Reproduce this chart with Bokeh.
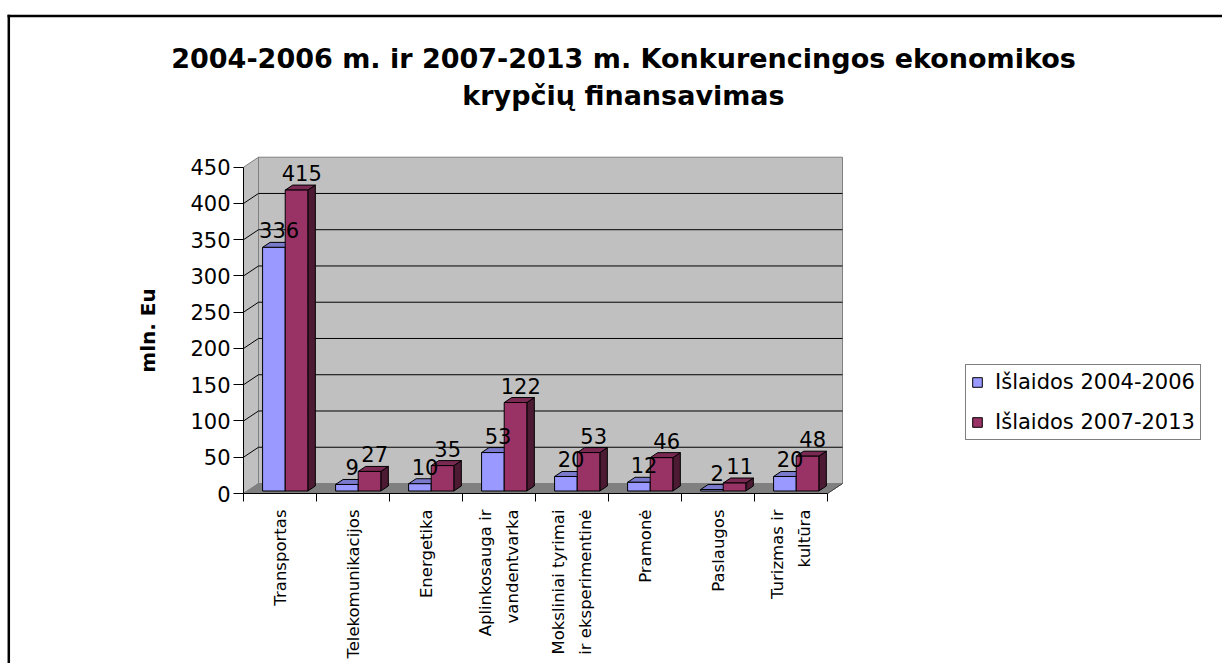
import math
from bokeh.plotting import figure
from bokeh.models import Range1d, FixedTicker, Label, Legend, LegendItem
from bokeh.embed import file_html
from bokeh.resources import INLINE

# ---------------- data ----------------
categories = ["Transportas", "Telekomunikacijos", "Energetika",
              "Aplinkosauga ir\nvandentvarka", "Moksliniai tyrimai\nir eksperimentinė",
              "Pramonė", "Paslaugos", "Turizmas ir\nkultūra"]
series_names = ["Išlaidos 2004-2006", "Išlaidos 2007-2013"]
values_2004_2006 = [336, 9, 10, 53, 20, 12, 2, 20]
values_2007_2013 = [415, 27, 35, 122, 53, 46, 11, 48]
y_ticks = [0, 50, 100, 150, 200, 250, 300, 350, 400, 450]
title_lines = ["2004-2006 m. ir 2007-2013 m. Konkurencingos ekonomikos",
               "krypčių finansavimas"]
y_label = "mln. Eu"

# ---------------- geometry (canvas pixels -> data units) ----------------
FONT = "DejaVu Sans"
W, H = 1222, 663
AX_X, AX_Y = 243, 493       # canvas px of the front origin (x=0, y=0)
PX_X = 73.0                 # px per category
PX_Y = 0.7251               # px per value unit
DX = 15.0 / PX_X            # depth of the 3D box (x)
DY = 10.0 / PX_Y            # depth of the 3D box (y)
YMAX = y_ticks[-1]
N = len(categories)


def cx(px):   # canvas px -> data x
    return (px - AX_X) / PX_X


def cy(py):   # canvas py -> data y
    return (AX_Y - py) / PX_Y


BLUE = ["#9999FF", "#7A7ACC", "#4D4D80"]   # front, top, side
RED = ["#993366", "#7A2952", "#4D1A33"]

p = figure(x_range=Range1d(cx(0), cx(W)), y_range=Range1d(cy(H), cy(0)),
           width=W, height=H,
           min_border_left=0, min_border_right=0,
           min_border_top=0, min_border_bottom=0,
           toolbar_location=None, output_backend="svg",
           background_fill_color="white", border_fill_color="white")
p.title.visible = False
p.outline_line_color = None
p.xgrid.visible = False
p.ygrid.visible = False

# ---------------- outer chart border (top and left edges visible) ----------------
p.segment(x0=[cx(7)], y0=[cy(15.5)], x1=[cx(W)], y1=[cy(15.5)], line_color="black", line_width=2.5)
p.segment(x0=[cx(8.3)], y0=[cy(14.3)], x1=[cx(8.3)], y1=[cy(H)], line_color="black", line_width=2.5)

# ---------------- walls ----------------
p.patch([0, DX, DX, 0], [0, DY, YMAX + DY, YMAX],
        fill_color="#C0C0C0", line_color="#808080", line_width=1)
p.quad(left=[DX], right=[N + DX], bottom=[DY], top=[YMAX + DY],
       fill_color="#C0C0C0", line_color="#808080", line_width=1)
p.patch([0, N, N + DX, DX], [0, 0, DY, DY],
        fill_color="#808080", line_color="#808080", line_width=1)
grid_vals = [v for v in y_ticks if 0 < v < YMAX]
p.segment(x0=[DX] * len(grid_vals), y0=[v + DY for v in grid_vals],
          x1=[N + DX] * len(grid_vals), y1=[v + DY for v in grid_vals],
          line_color="black", line_width=1)
p.segment(x0=[0] * len(grid_vals), y0=grid_vals,
          x1=[DX] * len(grid_vals), y1=[v + DY for v in grid_vals],
          line_color="black", line_width=1)
TICK = 8.0 / PX_Y
p.segment(x0=[0], y0=[0], x1=[N], y1=[0], line_color="black", line_width=1)
p.segment(x0=[N], y0=[0], x1=[N + DX], y1=[DY], line_color="#404040", line_width=1)
p.segment(x0=list(range(N + 1)), y0=[0] * (N + 1),
          x1=list(range(N + 1)), y1=[-TICK] * (N + 1),
          line_color="black", line_width=1)

# ---------------- 3D bars ----------------
T0, T1 = 0.25, 0.75
bdx, bdy = (T1 - T0) * DX, (T1 - T0) * DY
base = T0 * DY
slots = [(0.21, 0.52), (0.52, 0.83)]
front_renderers = []
for vals, (s0, s1), col in zip([values_2004_2006, values_2007_2013], slots, [BLUE, RED]):
    x0 = [i + s0 + T0 * DX for i in range(N)]
    x1 = [i + s1 + T0 * DX for i in range(N)]
    tops = [base + v for v in vals]
    p.patches([[b, b, b + bdx, b + bdx] for b in x1],
              [[base, t, t + bdy, base + bdy] for t in tops],
              fill_color=col[2], line_color="black", line_width=1)
    p.patches([[a, b, b + bdx, a + bdx] for a, b in zip(x0, x1)],
              [[t, t, t + bdy, t + bdy] for t in tops],
              fill_color=col[1], line_color="black", line_width=1)
    r = p.quad(left=x0, right=x1, bottom=[base] * N, top=tops,
               fill_color=col[0], line_color="black", line_width=1)
    front_renderers.append(r)

for vals, (s0, s1) in zip([values_2004_2006, values_2007_2013], slots):
    xs = [i + (s0 + s1) / 2 + T0 * DX + bdx / 2 + 0.02 for i in range(N)]
    ys = [base + v for v in vals]
    p.text(x=xs, y=ys, text=[str(v) for v in vals], y_offset=-17,
           text_align="center", text_baseline="alphabetic",
           text_font={"value": FONT}, text_font_size="21px", text_color="black")

# ---------------- axes (fixed inside the frame) ----------------
yax = p.yaxis[0]
yax.fixed_location = 0
yax.bounds = (0, YMAX)
yax.ticker = FixedTicker(ticks=y_ticks)
yax.axis_line_color = "black"
yax.major_tick_line_color = "black"
yax.major_tick_out = 10
yax.major_tick_in = 0
yax.minor_tick_out = 0
yax.minor_tick_in = 0
yax.major_label_standoff = 3
yax.major_label_text_font = FONT
yax.major_label_text_font_size = "21px"
yax.major_label_text_color = "black"
yax.axis_label = y_label
yax.axis_label_text_font = FONT
yax.axis_label_text_font_style = "bold"
yax.axis_label_text_font_size = "20px"
yax.axis_label_text_color = "black"
yax.axis_label_standoff = 27

xax = p.xaxis[0]
xax.fixed_location = -TICK
centers = [i + 0.5 for i in range(N)]
xax.bounds = (0, N)
xax.ticker = FixedTicker(ticks=centers)
xax.major_label_overrides = {c: name for c, name in zip(centers, categories)}
xax.major_label_orientation = math.pi / 2
xax.axis_line_color = None
xax.major_tick_line_color = None
xax.minor_tick_line_color = None
xax.major_label_standoff = 2
xax.major_label_text_font = FONT
xax.major_label_text_font_size = "16.5px"
xax.major_label_text_color = "black"
xax.major_label_text_line_height = 1.4

# ---------------- title ----------------
for line, py in zip(title_lines, [58, 95]):
    p.add_layout(Label(x=cx(623), y=cy(py), text=line, text_align="center",
                       text_baseline="middle", text_font=FONT,
                       text_font_style="bold", text_font_size="27px",
                       text_color="black"))

# ---------------- legend ----------------
legend = Legend(items=[LegendItem(label=n, renderers=[r])
                       for n, r in zip(series_names, front_renderers)],
                location=(965, H - 440), orientation="vertical")
legend.label_text_font = FONT
legend.label_text_font_size = "21px"
legend.label_text_color = "black"
legend.glyph_width = 12
legend.glyph_height = 12
legend.label_standoff = 12
legend.label_height = 24
legend.spacing = 16
legend.padding = 5
legend.margin = 0
legend.border_line_color = "black"
legend.border_line_width = 1
legend.background_fill_color = "white"
legend.background_fill_alpha = 1
p.add_layout(legend, "center")

open("out.html", "w").write(file_html(p, INLINE))
